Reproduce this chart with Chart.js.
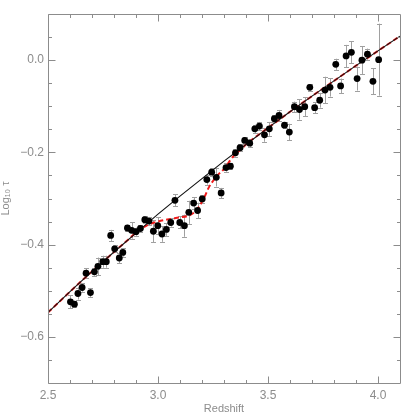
<!DOCTYPE html>
<html><head><meta charset="utf-8">
<script src="https://cdn.jsdelivr.net/npm/chart.js@4.4.1/dist/chart.umd.min.js"></script>
<style>html,body{margin:0;padding:0;background:#fff}canvas{display:block}</style>
</head><body>
<canvas id="c" width="414" height="414"></canvas>
<script>
// ---- data ----
const redshift = [2.602,2.620,2.636,2.655,2.673,2.693,2.711,2.727,2.749,2.765,2.785,2.803,2.824,2.840,
  2.861,2.880,2.900,2.920,2.940,2.959,2.979,2.999,3.018,3.038,3.058,3.077,
  3.099,3.120,3.140,3.162,3.180,3.201,3.222,3.244,3.265,3.287,3.309,3.329,
  3.352,3.373,3.394,3.417,3.440,3.461,3.484,3.506,3.529,3.550,3.575,3.597,3.620,3.643,3.667,3.690,3.712,3.735,
  3.759,3.782,3.808,3.830,3.855,3.879,3.905,3.927,3.952,3.977,4.003];
const logTau = [-0.524,-0.529,-0.506,-0.493,-0.462,-0.504,-0.459,-0.447,-0.437,-0.437,-0.380,-0.409,-0.429,-0.417,
  -0.364,-0.369,-0.372,-0.365,-0.346,-0.349,-0.371,-0.359,-0.377,-0.367,-0.352,-0.304,
  -0.352,-0.359,-0.330,-0.310,-0.326,-0.301,-0.259,-0.243,-0.254,-0.288,-0.233,-0.230,
  -0.201,-0.190,-0.174,-0.180,-0.149,-0.143,-0.162,-0.149,-0.127,-0.120,-0.141,-0.156,-0.101,-0.107,-0.101,-0.059,-0.103,-0.087,
  -0.065,-0.059,-0.009,-0.056,0.009,0.017,-0.040,0.000,0.013,-0.046,0.001];
const logTauErr = [0.014,0.007,0.013,0.009,0.011,0.010,0.008,0.019,0.013,0.013,0.012,0.008,0.011,0.009,
  0.007,0.018,0.009,0.007,0.008,0.009,0.024,0.018,0.017,0.014,0.009,0.013,
  0.013,0.024,0.025,0.013,0.017,0.008,0.011,0.009,0.020,0.011,0.009,0.007,
  0.008,0.008,0.007,0.008,0.009,0.009,0.015,0.015,0.007,0.012,0.006,0.018,0.011,0.022,0.021,0.007,0.012,0.016,
  0.029,0.020,0.012,0.016,0.024,0.024,0.026,0.030,0.012,0.028,0.078];
const fitRedshift = [2.5,2.6,2.7,2.8,2.9,3.0,3.1,3.2,3.3,3.4,3.5,3.6,3.7,3.8,3.9,4.0,4.1];
const fitLogTau   = [-0.547,-0.502,-0.458,-0.416,-0.375,-0.334,-0.295,-0.257,-0.219,-0.183,-0.147,-0.112,-0.078,-0.045,-0.012,0.020,0.052];
const modelRedshift = [2.5,2.6,2.7,2.8,2.86,2.9,2.95,3.0,3.05,3.1,3.14,3.17,3.19,3.21,3.23,3.25,3.27,3.30,3.34,3.38,3.4,3.5,3.6,3.7,3.8,3.9,4.0,4.1];
const modelLogTau   = [-0.547,-0.502,-0.458,-0.416,-0.391,-0.374,-0.358,-0.350,-0.345,-0.341,-0.337,-0.328,-0.315,-0.298,-0.277,-0.262,-0.250,-0.236,-0.210,-0.192,-0.183,-0.147,-0.112,-0.078,-0.045,-0.012,0.020,0.052];
const xTickLabels = [2.5,3.0,3.5,4.0];
const yTickLabels = [-0.6,-0.4,-0.2,0.0];
const xMinorTicks = [2.6,2.7,2.8,2.9,3.1,3.2,3.3,3.4,3.6,3.7,3.8,3.9];
const yMinorTicks = [-0.65,-0.55,-0.5,-0.45,-0.35,-0.3,-0.25,-0.15,-0.1,-0.05,0.05];

const AXIS = '#8c8c8c';
const FONT = 'Liberation Sans, Arial, sans-serif';
const fmt = v => (v < 0 ? '\u2212' : '') + Math.abs(v).toFixed(1);

const framePlugin = {
  id: 'frame',
  beforeDatasetsDraw(chart) {
    const {ctx, scales: {x, y}} = chart;
    ctx.save();
    ctx.strokeStyle = '#a0a0a0';
    ctx.lineWidth = 1;
    ctx.beginPath();
    redshift.forEach((z, i) => {
      const px = Math.round(x.getPixelForValue(z)) + 0.5;
      const y1 = y.getPixelForValue(logTau[i] - logTauErr[i]);
      const y2 = y.getPixelForValue(logTau[i] + logTauErr[i]);
      ctx.moveTo(px, y1); ctx.lineTo(px, y2);
      ctx.moveTo(px - 2.5, Math.round(y1) + 0.5); ctx.lineTo(px + 2.5, Math.round(y1) + 0.5);
      ctx.moveTo(px - 2.5, Math.round(y2) + 0.5); ctx.lineTo(px + 2.5, Math.round(y2) + 0.5);
    });
    ctx.stroke();
    ctx.restore();
  },
  afterDraw(chart) {
    const {ctx, chartArea: a, scales: {x, y}} = chart;
    ctx.save();
    ctx.strokeStyle = AXIS;
    ctx.lineWidth = 1;
    ctx.beginPath();
    const L = Math.round(a.left) + 0.5, R = Math.round(a.right) + 0.5;
    const T = Math.round(a.top) + 0.5, B = Math.round(a.bottom) + 0.5;
    ctx.rect(L, T, R - L, B - T);
    const xt = (v, len) => {
      const p = Math.round(x.getPixelForValue(v)) + 0.5;
      ctx.moveTo(p, B); ctx.lineTo(p, B - len);
      ctx.moveTo(p, T); ctx.lineTo(p, T + len);
    };
    const yt = (v, len) => {
      const p = Math.round(y.getPixelForValue(v)) + 0.5;
      ctx.moveTo(L, p); ctx.lineTo(L + len, p);
      ctx.moveTo(R, p); ctx.lineTo(R - len, p);
    };
    xTickLabels.forEach(v => xt(v, 7));
    xMinorTicks.forEach(v => xt(v, 3.5));
    yTickLabels.forEach(v => yt(v, 7));
    yMinorTicks.forEach(v => yt(v, 3.5));
    ctx.stroke();
    ctx.restore();
  }
};

new Chart(document.getElementById('c'), {
  type: 'scatter',
  data: {
    datasets: [
      { type: 'scatter', data: redshift.map((z, i) => ({x: z, y: logTau[i]})),
        backgroundColor: '#000', borderColor: '#000', pointRadius: 3.4, borderWidth: 0, order: 0 },
      { type: 'line', data: fitRedshift.map((z, i) => ({x: z, y: fitLogTau[i]})),
        borderColor: '#111', borderWidth: 1.1, pointRadius: 0, fill: false, tension: 0, order: 1 },
      { type: 'line', data: modelRedshift.map((z, i) => ({x: z, y: modelLogTau[i]})),
        borderColor: '#f01a1a', borderWidth: 2, borderDash: [5, 3], pointRadius: 0, fill: false,
        cubicInterpolationMode: 'monotone', order: 2 }
    ]
  },
  options: {
    responsive: false, animation: false, devicePixelRatio: 1,
    layout: { padding: { left: 0, right: 14, top: 14, bottom: 0 } },
    plugins: { legend: { display: false }, tooltip: { enabled: false } },
    scales: {
      x: {
        type: 'linear', min: 2.5, max: 4.1,
        afterBuildTicks: s => { s.ticks = xTickLabels.map(v => ({ value: v })); },
        afterFit: s => { s.height = 31; },
        grid: { display: false, drawTicks: false }, border: { display: false },
        ticks: { padding: 5, color: AXIS, font: { family: FONT, size: 12 }, maxRotation: 0, autoSkip: false, callback: v => fmt(v) },
        title: { display: true, text: 'Redshift', color: AXIS, font: { family: FONT, size: 11 }, padding: { top: 0, bottom: -2 } }
      },
      y: {
        type: 'linear', min: -0.7, max: 0.1,
        afterBuildTicks: s => { s.ticks = yTickLabels.map(v => ({ value: v })); },
        afterFit: s => { s.width = 48; },
        grid: { display: false, drawTicks: false }, border: { display: false },
        ticks: { padding: 4, color: AXIS, font: { family: FONT, size: 12 }, autoSkip: false, callback: v => fmt(v) },
        title: { display: true, text: 'Log\u2081\u2080 \u03C4', color: AXIS, font: { family: FONT, size: 11 }, padding: { top: -1, bottom: 0 } }
      }
    }
  },
  plugins: [framePlugin]
});
</script>
</body></html>
